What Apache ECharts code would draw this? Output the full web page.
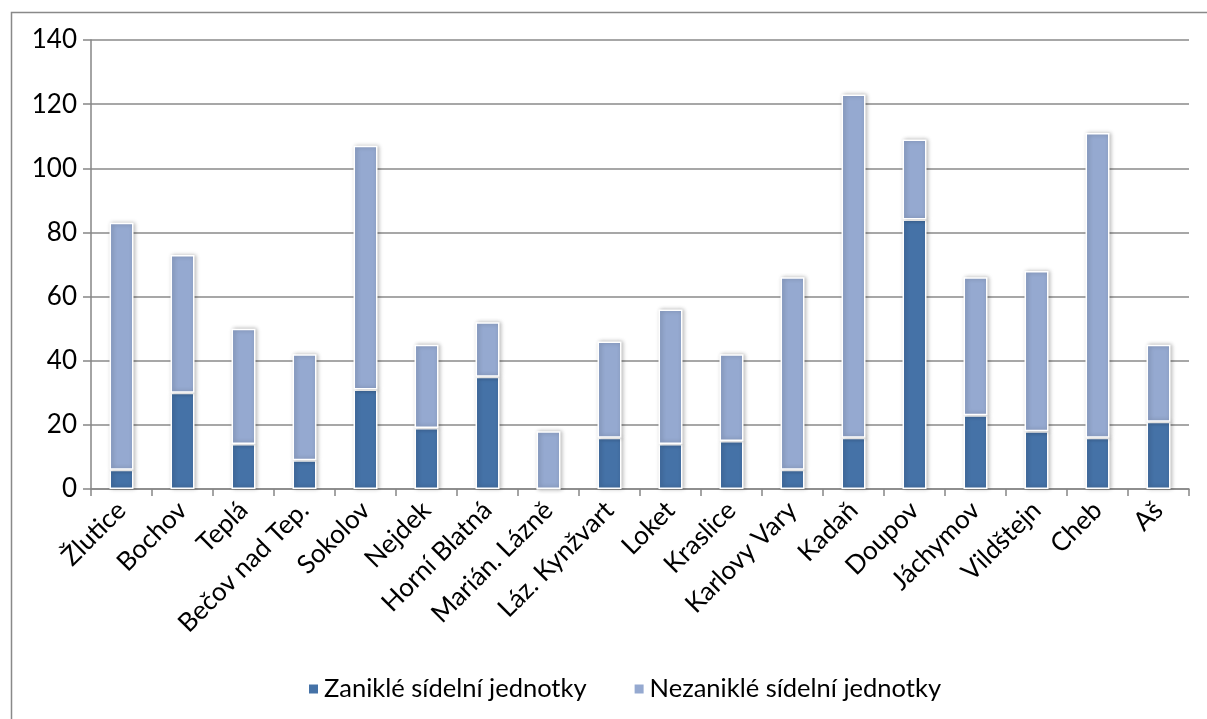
<!DOCTYPE html>
<html>
<head>
<meta charset="utf-8">
<script src="https://cdn.jsdelivr.net/npm/echarts@6/dist/echarts.min.js"></script>
<style>
html,body{margin:0;padding:0;background:#fff;}
#chart{width:1207px;height:719px;}
</style>
</head>
<body>
<div id="chart"></div>
<script>
const categories = ['Žlutice','Bochov','Teplá','Bečov nad Tep.','Sokolov','Nejdek','Horní Blatná','Marián. Lázně','Láz. Kynžvart','Loket','Kraslice','Karlovy Vary','Kadaň','Doupov','Jáchymov','Vildštejn','Cheb','Aš'];
const zanikle   = [6, 30, 14, 9, 31, 19, 35, 0, 16, 14, 15, 6, 16, 84, 23, 18, 16, 21];
const nezanikle = [77, 43, 36, 33, 76, 26, 17, 18, 30, 42, 27, 60, 107, 25, 43, 50, 95, 24];
const seriesNames = ['Zaniklé sídelní jednotky','Nezaniklé sídelní jednotky'];
const yTicks = {min: 0, max: 140, interval: 20};

const FONT = 'Lato, "Open Sans", sans-serif';
const chart = echarts.init(document.getElementById('chart'), null, {renderer: 'canvas'});
const barStyle = (color) => ({
  color: color,
  borderColor: '#ffffff',
  borderWidth: 1.5,
  shadowColor: 'rgba(0,0,0,0.28)',
  shadowBlur: 4,
  shadowOffsetX: 1.5,
  shadowOffsetY: 0
});
chart.setOption({
  animation: false,
  backgroundColor: '#ffffff',
  graphic: [{
    type: 'rect',
    left: 9, top: 10,
    shape: {width: 1400, height: 900},
    style: {fill: 'none', stroke: '#898989', lineWidth: 1.5},
    silent: true, z: -1
  }],
  grid: {left: 91, right: 18, top: 40, bottom: 230, containLabel: false},
  legend: {
    top: 671,
    left: 302,
    itemWidth: 11, itemHeight: 11, itemGap: 46,
    icon: 'rect',
    textStyle: {fontFamily: FONT, fontSize: 25.5, color: '#000'},
    data: seriesNames
  },
  xAxis: {
    type: 'category',
    data: categories,
    axisLine: {lineStyle: {color: '#868686', width: 1.5}},
    axisTick: {show: true, alignWithLabel: false, length: 7, lineStyle: {color: '#868686', width: 1.5}},
    axisLabel: {rotate: 45, interval: 0, margin: 17, fontFamily: FONT, fontSize: 26, color: '#000'}
  },
  yAxis: {
    type: 'value',
    min: yTicks.min, max: yTicks.max, interval: yTicks.interval,
    axisLine: {show: true, lineStyle: {color: '#868686', width: 1.5}},
    axisTick: {show: true, length: 8, lineStyle: {color: '#868686', width: 1.5}},
    splitLine: {lineStyle: {color: '#8a8a8a', width: 1.5}},
    axisLabel: {margin: 14, fontFamily: FONT, fontSize: 26, color: '#000'}
  },
  series: [
    {name: seriesNames[0], type: 'bar', stack: 'a', data: zanikle, barWidth: 24, itemStyle: barStyle('#4572a7')},
    {name: seriesNames[1], type: 'bar', stack: 'a', data: nezanikle, barWidth: 24, itemStyle: barStyle('#95a9d0')}
  ]
});
</script>
</body>
</html>
